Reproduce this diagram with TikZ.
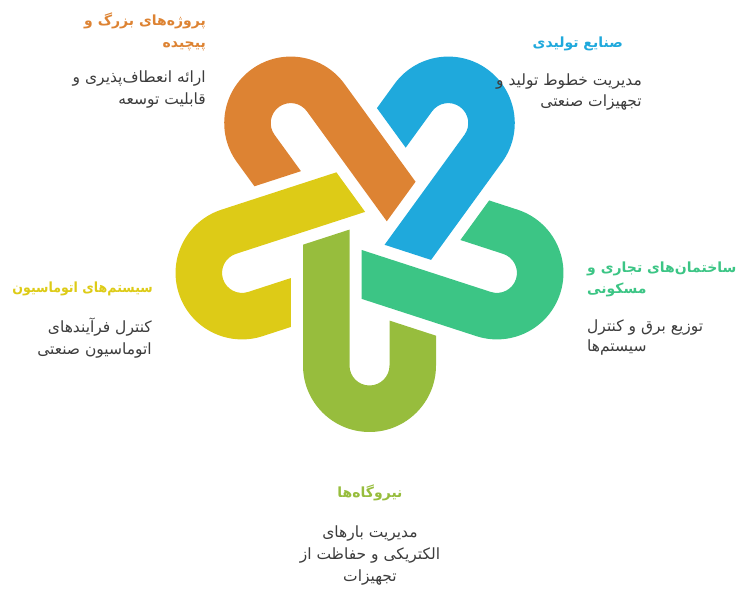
\documentclass[tikz,border=0pt]{standalone}
\usepackage{fontspec}
\newfontfamily\fa[Script=Arabic]{DejaVu Sans}
\newfontfamily\facond[Script=Arabic,FakeStretch=0.9]{DejaVu Sans}
\TeXXeTstate=1
\definecolor{cOrange}{HTML}{DD8333}
\definecolor{cBlue}{HTML}{1FA9DC}
\definecolor{cTeal}{HTML}{3CC585}
\definecolor{cYellow}{HTML}{DDCB17}
\definecolor{cGreen}{HTML}{97BD3D}
\definecolor{cText}{HTML}{3C3C3C}
\newcommand\bandpath{(-66.5,120.8) -- (-20,135.9) -- (-20,0)
  arc[start angle=180,end angle=360,radius=20] -- (20,44.9) -- (66.5,29.8) -- (66.5,0)
  arc[start angle=0,end angle=-180,radius=66.5] -- cycle}
\begin{document}
\begin{tikzpicture}[x=1pt,y=1pt,
  ttl/.style={font=\fa\bfseries\fontsize{14}{16}\selectfont, inner sep=0pt},
  dsc/.style={font=\fa\fontsize{15.5}{18}\selectfont, text=cText, inner sep=0pt}]
\useasboundingbox (0,0) rectangle (747,599);
\coordinate (C) at (369.5,367.5);
\foreach \k/\col in {0/cGreen,1/cYellow,2/cOrange,3/cBlue,4/cTeal}{
  \begin{scope}[rotate around={-72*\k:(C)}, shift={(369.5,233.5)}]
    \fill[\col] \bandpath;
  \end{scope}
}
% orange
\node[ttl, text=cOrange, anchor=base east] (o1) at (206,573.3) {\beginR پروژه‌های بزرگ و\endR};
\node[ttl, text=cOrange, anchor=base east] (o2) at (206,551.3) {\beginR پیچیده\endR};
\node[dsc, anchor=base east] (o3) at (206,516) {\beginR ارائه انعطاف‌پذیری و\endR};
\node[dsc, anchor=base east] (o4) at (206,494) {\beginR قابلیت توسعه\endR};
% blue
\node[ttl, text=cBlue, anchor=base east] (b1) at (623,551.3) {\beginR صنایع تولیدی\endR};
\node[dsc, anchor=base east] (b2) at (642,513.5) {\beginR مدیریت خطوط تولید و\endR};
\node[dsc, anchor=base east] (b3) at (642,492.5) {\beginR تجهیزات صنعتی\endR};
% teal
\node[ttl, text=cTeal, anchor=base west] (t1) at (587,326.3) {\beginR ساختمان‌های تجاری و\endR};
\node[ttl, text=cTeal, anchor=base west] (t2) at (587,305.7) {\beginR مسکونی\endR};
\node[dsc, anchor=base west] (t3) at (587,267.3) {\beginR توزیع برق و کنترل\endR};
\node[dsc, anchor=base west] (t4) at (587,247.3) {\beginR سیستم‌ها\endR};
% yellow
\node[ttl, text=cYellow, anchor=base east, font=\facond\bfseries\fontsize{14}{16}\selectfont] (y1) at (153,306) {\beginR سیستم‌های اتوماسیون\endR};
\node[dsc, anchor=base east] (y2) at (152,266) {\beginR کنترل فرآیندهای\endR};
\node[dsc, anchor=base east] (y3) at (152,244) {\beginR اتوماسیون صنعتی\endR};
% green
\node[ttl, text=cGreen, anchor=base] (g1) at (370,101.3) {\beginR نیروگاه‌ها\endR};
\node[dsc, anchor=base] (g2) at (370,61) {\beginR مدیریت بارهای\endR};
\node[dsc, anchor=base] (g3) at (370,39) {\beginR الکتریکی و حفاظت از\endR};
\node[dsc, anchor=base] (g4) at (370,17.3) {\beginR تجهیزات\endR};
\end{tikzpicture}
\end{document}
